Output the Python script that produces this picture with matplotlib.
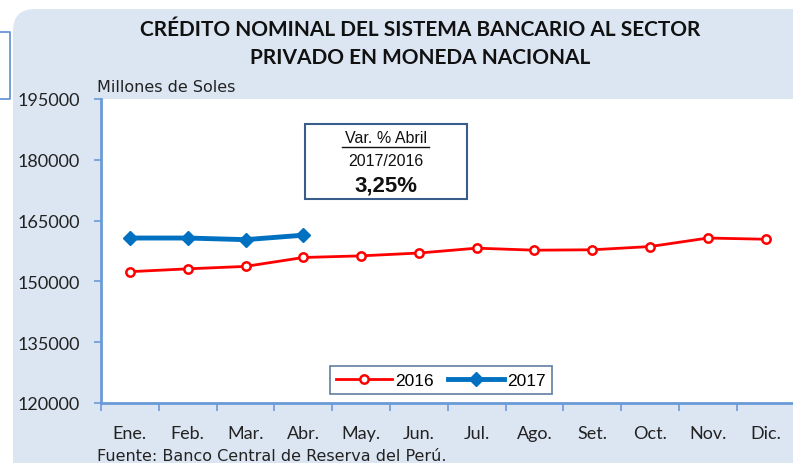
import matplotlib.pyplot as plt
from matplotlib.patches import FancyBboxPatch, Rectangle

# data
months = ["Ene.", "Feb.", "Mar.", "Abr.", "May.", "Jun.", "Jul.", "Ago.", "Set.", "Oct.", "Nov.", "Dic."]
credito_2016 = [152400, 153100, 153700, 155900, 156300, 157000, 158200, 157700, 157800, 158600, 160700, 160400]
credito_2017 = [160700, 160700, 160300, 161400]
yticks = [120000, 135000, 150000, 165000, 180000, 195000]

W, H = 793, 464
fig = plt.figure(figsize=(W / 100, H / 100), dpi=100)
fig.patch.set_facecolor("white")

# background in pixel coords
bg = fig.add_axes([0, 0, 1, 1], zorder=-1)
bg.set_xlim(0, W)
bg.set_ylim(H, 0)
bg.axis("off")
bg.add_patch(FancyBboxPatch((13, 10), W + 40, H + 40, boxstyle="round,pad=0,rounding_size=22",
                            facecolor="#DCE6F2", edgecolor="none"))
# bits of the neighbouring chart on the left
bg.plot([0, 10, 10, 0], [33, 33, 100, 100], color="#5B8FD6", lw=1.2)

bg.text(420, 30, "CRÉDITO NOMINAL DEL SISTEMA BANCARIO AL SECTOR", ha="center", va="center",
        fontsize=15, fontweight="bold", family="Lato", color="#111111")
bg.text(420, 58, "PRIVADO EN MONEDA NACIONAL", ha="center", va="center",
        fontsize=15, fontweight="bold", family="Lato", color="#111111")
bg.text(97, 88, "Millones de Soles", ha="left", va="center", fontsize=11.5,
        family="DejaVu Sans", color="#222222")
bg.text(97, 457, "Fuente: Banco Central de Reserva del Perú.", ha="left", va="center",
        fontsize=11.5, family="DejaVu Sans", color="#222222")

left, right, top, bottom = 101, 794.6, 100, 404
ax = fig.add_axes([left / W, 1 - bottom / H, (right - left) / W, (bottom - top) / H])
ax.set_facecolor("white")

x = list(range(len(months)))
ax.plot(x, credito_2016, color="#FF0000", lw=2, marker="o", ms=6, mfc="white", mec="#FF0000", mew=1.8,
        label="2016", zorder=3)
ax.plot(x[:len(credito_2017)], credito_2017, color="#0070C0", lw=3.5, marker="D", ms=7,
        mfc="#0070C0", mec="#0070C0", label="2017", zorder=4)

ax.set_xlim(-0.5, 11.5)
ax.set_ylim(120000, 195000)
ax.set_yticks(yticks)
ax.set_yticklabels([str(v) for v in yticks], fontsize=13, family="Lato", color="#222222")
ax.set_xticks(x)
ax.set_xticklabels(months, fontsize=13, family="Lato", color="#222222")
ax.set_xticks([i - 0.5 for i in range(len(months) + 1)], minor=True)
ax.tick_params(axis="x", which="major", length=0, pad=16)
ax.tick_params(axis="x", which="minor", length=6, color="#6A9BD8", width=1.2, direction="out")
ax.tick_params(axis="y", length=5, color="#6A9BD8", width=1.2, direction="out", pad=10)

for s in ["top", "right"]:
    ax.spines[s].set_visible(False)
for s in ["left", "bottom"]:
    ax.spines[s].set_color("#6A9BD8")
    ax.spines[s].set_linewidth(2)

# variation box, drawn on top of ax in pixel coords
ov = fig.add_axes([0, 0, 1, 1], zorder=2)
ov.set_xlim(0, W)
ov.set_ylim(H, 0)
ov.axis("off")
ov.add_patch(Rectangle((305, 125), 162, 75, facecolor="white", edgecolor="#385D8A", lw=1.5))
ov.text(386, 139, "Var. % Abril", ha="center", va="center", fontsize=11.5,
        family="Liberation Sans", color="#111111")
ov.plot([342, 429], [148, 148], color="#111111", lw=1)
ov.text(386, 162, "2017/2016", ha="center", va="center", fontsize=11.5,
        family="Liberation Sans", color="#111111")
ov.text(386, 186, "3,25%", ha="center", va="center", fontsize=16, fontweight="bold",
        family="Liberation Sans", color="#111111")

leg = ax.legend(loc="center", bbox_to_anchor=((441 - left) / (right - left), (bottom - 381) / (bottom - top)),
                ncol=2, frameon=True, fancybox=False, edgecolor="#385D8A", handlelength=3.2,
                columnspacing=0.8, handletextpad=0.2, borderpad=0.35,
                prop={"family": "Liberation Sans", "size": 12.5})
leg.get_frame().set_linewidth(1.2)

fig.savefig("out.png", dpi=100)
